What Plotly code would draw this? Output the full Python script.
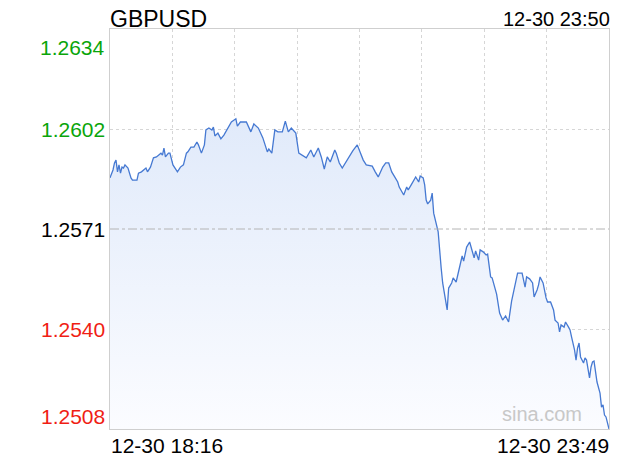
import pandas as pd
import plotly.graph_objects as go

# ---------------- data ----------------
symbol = "GBPUSD"
stamp = "12-30 23:50"
start_time = "2023-12-30 18:16"
end_time = "2023-12-30 23:49"
x_tick_text = ["12-30 18:16", "12-30 23:49"]

y_tick_vals = [1.2634, 1.26025, 1.2571, 1.25395, 1.2508]
y_tick_text = ["1.2634", "1.2602", "1.2571", "1.2540", "1.2508"]
y_tick_colors = ["#0aa50a", "#0aa50a", "#000000", "#f01e14", "#f01e14"]
prev_close = 1.2571
y_range = [1.2508, 1.2634]

minutes = [0, 2, 3, 4, 5, 6, 7, 8, 9, 10, 12, 14, 15, 18, 19, 21, 24, 25, 27, 29,
           31, 34, 35, 36, 37, 39, 40, 42, 45, 47, 49, 51, 52, 54, 56, 58, 59, 61, 63, 64,
           66, 68, 69, 70, 72, 74, 76, 79, 81, 84, 85, 87, 91, 94, 96, 99, 102, 105, 106, 108,
           110, 112, 115, 117, 119, 121, 124, 126, 128, 131, 134, 136, 139, 141, 143, 145, 147, 150, 151, 153,
           155, 157, 158, 160, 162, 165, 167, 169, 171, 175, 177, 179, 182, 184, 186, 188, 190, 192, 193, 196,
           198, 199, 201, 204, 206, 207, 209, 210, 211, 212, 214, 215, 216, 218, 219, 221, 222, 225, 226, 228,
           229, 231, 233, 235, 236, 238, 240, 241, 243, 244, 246, 247, 249, 251, 252, 254, 255, 258, 260, 262,
           264, 266, 268, 270, 272, 275, 277, 278, 280, 282, 283, 285, 286, 287, 289, 291, 292, 294, 296, 297,
           299, 300, 301, 303, 304, 306, 307, 308, 310, 311, 312, 313, 314, 316, 317, 318, 320, 321, 322, 323,
           325, 327, 328, 329, 330, 331, 333]

prices = [1.25871, 1.25896, 1.25918, 1.25927, 1.25890, 1.25912, 1.25886, 1.25905, 1.25902, 1.25912,
          1.25902, 1.25871, 1.25864, 1.25864, 1.25886, 1.25890, 1.25902, 1.25890, 1.25905, 1.25934,
          1.25937, 1.25949, 1.25943, 1.25965, 1.25937, 1.25949, 1.25949, 1.25912, 1.25890, 1.25905,
          1.25912, 1.25949, 1.25953, 1.25968, 1.25968, 1.25984, 1.25975, 1.25949, 1.25975, 1.26022,
          1.26028, 1.26022, 1.26031, 1.26003, 1.26012, 1.25994, 1.26006, 1.26028, 1.26047, 1.26057,
          1.26034, 1.26047, 1.26047, 1.26016, 1.26041, 1.26028, 1.25997, 1.25953, 1.25962, 1.25949,
          1.26022, 1.26016, 1.26016, 1.26050, 1.26016, 1.26028, 1.26012, 1.25949, 1.25943, 1.25934,
          1.25959, 1.25937, 1.25965, 1.25937, 1.25899, 1.25937, 1.25921, 1.25959, 1.25949, 1.25918,
          1.25902, 1.25918, 1.25927, 1.25943, 1.25956, 1.25975, 1.25953, 1.25927, 1.25912, 1.25908,
          1.25890, 1.25874, 1.25905, 1.25918, 1.25918, 1.25890, 1.25874, 1.25858, 1.25842, 1.25817,
          1.25842, 1.25833, 1.25849, 1.25874, 1.25858, 1.25877, 1.25871, 1.25849, 1.25801, 1.25789,
          1.25801, 1.25823, 1.25760, 1.25726, 1.25701, 1.25587, 1.25540, 1.25455, 1.25524, 1.25540,
          1.25556, 1.25543, 1.25581, 1.25625, 1.25609, 1.25653, 1.25669, 1.25650, 1.25619, 1.25641,
          1.25612, 1.25644, 1.25638, 1.25628, 1.25631, 1.25559, 1.25556, 1.25505, 1.25445, 1.25423,
          1.25436, 1.25417, 1.25483, 1.25527, 1.25571, 1.25571, 1.25527, 1.25559, 1.25553, 1.25540,
          1.25496, 1.25518, 1.25534, 1.25559, 1.25540, 1.25493, 1.25480, 1.25480, 1.25455, 1.25423,
          1.25414, 1.25386, 1.25408, 1.25401, 1.25417, 1.25401, 1.25392, 1.25370, 1.25329, 1.25297,
          1.25335, 1.25351, 1.25307, 1.25288, 1.25304, 1.25297, 1.25241, 1.25275, 1.25291, 1.25294,
          1.25228, 1.25193, 1.25149, 1.25156, 1.25124, 1.25118, 1.25080]

# ---------------- figure ----------------
FONT = "Liberation Sans, Arial, sans-serif"
t0 = pd.Timestamp(start_time)
times = [t0 + pd.Timedelta(minutes=m) for m in minutes]
t_end = pd.Timestamp(end_time)
span_ms = (t_end - t0).total_seconds() * 1000

fig = go.Figure()
fig.add_trace(go.Scatter(x=times, y=[y_range[0]] * len(times), mode="lines",
                         line=dict(width=0), hoverinfo="skip", showlegend=False))
fig.add_trace(go.Scatter(
    x=times, y=prices, mode="lines",
    line=dict(color="#4679d2", width=1.3),
    fill="tonexty",
    fillgradient=dict(type="vertical",
                      colorscale=[[0, "#fbfcff"], [1, "#d9e5f9"]],
                      start=y_range[0], stop=y_range[1]),
    hoverinfo="skip", showlegend=False))

fig.add_shape(type="line", xref="paper", x0=0, x1=1, yref="y", y0=prev_close, y1=prev_close,
              line=dict(color="#b4b4b4", width=1, dash="dashdot"), layer="above")

anns = []
for val, txt, col, shift in zip(y_tick_vals, y_tick_text, y_tick_colors, [-18, 0, 0, 0, 13]):
    anns.append(dict(x=0, xref="paper", y=val, yref="y", text=txt, showarrow=False,
                     xanchor="right", yanchor="middle", xshift=-3, yshift=shift,
                     font=dict(family=FONT, size=21, color=col)))
anns.append(dict(x=0, xref="paper", y=0, yref="paper", text=x_tick_text[0], showarrow=False,
                 xanchor="left", yanchor="middle", xshift=-1, yshift=-16,
                 font=dict(family=FONT, size=21, color="#000")))
anns.append(dict(x=1, xref="paper", y=0, yref="paper", text=x_tick_text[1], showarrow=False,
                 xanchor="right", yanchor="middle", xshift=2, yshift=-16,
                 font=dict(family=FONT, size=21, color="#000")))
anns.append(dict(x=0, xref="paper", y=1, yref="paper", text=symbol, showarrow=False,
                 xanchor="left", yanchor="middle", xshift=-1, yshift=10,
                 borderpad=0,
                 font=dict(family=FONT, size=23, color="#000")))
anns.append(dict(x=1, xref="paper", y=1, yref="paper", text=stamp, showarrow=False,
                 xanchor="right", yanchor="middle", xshift=2, yshift=10,
                 borderpad=0,
                 font=dict(family=FONT, size=20, color="#000")))
anns.append(dict(x=1, xref="paper", y=0.0375, yref="paper", text="sina.com", showarrow=False,
                 xanchor="right", yanchor="middle", xshift=-25,
                 font=dict(family=FONT, size=20, color="#c8c8c8")))

# the page body adds an 8px margin, so the figure is sized to fit inside 620x460
fig.update_layout(
    width=612, height=452,
    margin=dict(l=102, r=11, t=21, b=31),
    paper_bgcolor="white", plot_bgcolor="white",
    annotations=anns,
    xaxis=dict(range=[t0, t_end], type="date", tick0=t0, dtick=span_ms / 8,
               showgrid=True, gridcolor="#d6d6d6", griddash="dot", gridwidth=1,
               showticklabels=False, ticks="", zeroline=False,
               showline=True, linecolor="#cfcfcf", linewidth=1, mirror=True),
    yaxis=dict(range=y_range, tickvals=[y_tick_vals[1], y_tick_vals[3]],
               showgrid=True, gridcolor="#d6d6d6", griddash="dot", gridwidth=1,
               showticklabels=False, ticks="", zeroline=False,
               showline=True, linecolor="#cfcfcf", linewidth=1, mirror=True),
    hovermode=False,
)

fig.write_html("out.html")
